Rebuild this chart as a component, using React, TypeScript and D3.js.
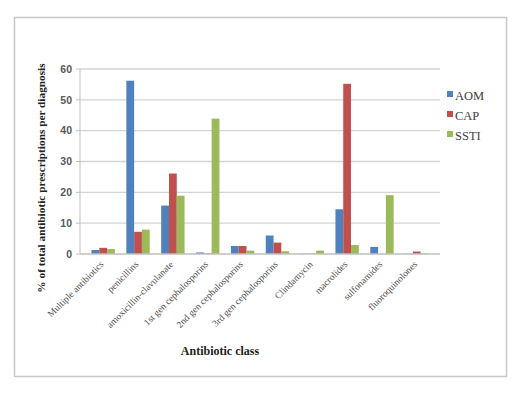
import React, { useEffect, useRef } from 'react';
import * as d3 from 'd3';

const categories = [
  'Multiple antibiotics',
  'penicillins',
  'amoxicillin-clavulanate',
  '1st gen cephalosporins',
  '2nd gen cephalosporins',
  '3rd gen cephalosporins',
  'Clindamycin',
  'macrolides',
  'sulfonamides',
  'fluoroquinolones',
];
const seriesNames = ['AOM', 'CAP', 'SSTI'];
const aom = [1.3, 56.2, 15.7, 0.5, 2.6, 6.0, 0.1, 14.5, 2.3, 0.1];
const cap = [2.0, 7.2, 26.1, 0.2, 2.6, 3.7, 0.1, 55.2, 0, 0.8];
const ssti = [1.6, 7.9, 18.9, 43.9, 1.1, 0.9, 1.1, 2.9, 19.1, 0.2];
const yTicks = [0, 10, 20, 30, 40, 50, 60];
const colors = ['#4f81bd', '#c0504d', '#9bbb59'];

const App = () => {
  const ref = useRef<SVGSVGElement>(null);

  useEffect(() => {
    const svg = d3.select(ref.current);
    svg.selectAll('*').remove();

    const left = 80, right = 440, top = 69, bottom = 254;
    const values = [aom, cap, ssti];

    // frame
    svg.append('rect')
      .attr('x', 14.5).attr('y', 17.5)
      .attr('width', 492).attr('height', 359)
      .attr('fill', '#fff').attr('stroke', '#c8c8c8').attr('stroke-width', 1.5);

    const x = d3.scaleBand().domain(categories).range([left, right]).padding(0.33);
    const xs = d3.scaleBand().domain(seriesNames).range([0, x.bandwidth()]);
    const y = d3.scaleLinear().domain([0, 60]).range([bottom, top]);

    // gridlines
    svg.append('g').selectAll('line')
      .data(yTicks.filter(t => t > 0))
      .enter().append('line')
      .attr('x1', left).attr('x2', right)
      .attr('y1', d => y(d)).attr('y2', d => y(d))
      .attr('stroke', '#d4d4d4').attr('stroke-width', 1.3);

    // y axis line + ticks
    svg.append('line')
      .attr('x1', left).attr('x2', left).attr('y1', top).attr('y2', bottom)
      .attr('stroke', '#bfbfbf').attr('stroke-width', 1);
    svg.append('g').selectAll('line')
      .data(yTicks)
      .enter().append('line')
      .attr('x1', left - 4).attr('x2', left)
      .attr('y1', d => y(d)).attr('y2', d => y(d))
      .attr('stroke', '#bfbfbf');
    svg.append('g').selectAll('text')
      .data(yTicks)
      .enter().append('text')
      .attr('x', left - 8).attr('y', d => y(d))
      .attr('dy', '0.35em')
      .attr('text-anchor', 'end')
      .attr('font-family', 'Liberation Sans, Arial, sans-serif')
      .attr('font-size', 10.5)
      .attr('font-weight', 'bold')
      .attr('fill', '#595959')
      .text(d => d);

    // bars
    seriesNames.forEach((s, i) => {
      svg.append('g').selectAll('rect')
        .data(values[i])
        .enter().append('rect')
        .attr('x', (d, j) => x(categories[j])! + xs(s)!)
        .attr('y', d => y(d))
        .attr('width', xs.bandwidth())
        .attr('height', d => bottom - y(d))
        .attr('fill', colors[i]);
    });

    // x axis line
    svg.append('line')
      .attr('x1', left).attr('x2', right).attr('y1', bottom).attr('y2', bottom)
      .attr('stroke', '#bfbfbf').attr('stroke-width', 1.3);

    // category labels
    svg.append('g').selectAll('text')
      .data(categories)
      .enter().append('text')
      .attr('transform', d => `translate(${x(d)! + x.bandwidth() / 2 + 1},${bottom + 11}) rotate(-45)`)
      .attr('text-anchor', 'end')
      .attr('font-family', 'Liberation Serif, Times New Roman, serif')
      .attr('font-size', 9.5)
      .attr('fill', '#505050')
      .text(d => d);

    // axis titles
    svg.append('text')
      .attr('transform', `translate(45,${178}) rotate(-90)`)
      .attr('text-anchor', 'middle')
      .attr('font-family', 'Liberation Serif, Times New Roman, serif')
      .attr('font-size', 11.3)
      .attr('font-weight', 'bold')
      .attr('fill', '#222')
      .text('% of total antibiotic  prescriptions per diagnosis');
    svg.append('text')
      .attr('x', 220).attr('y', 355)
      .attr('text-anchor', 'middle')
      .attr('font-family', 'Liberation Serif, Times New Roman, serif')
      .attr('font-size', 12)
      .attr('font-weight', 'bold')
      .attr('fill', '#222')
      .text('Antibiotic class');

    // legend
    const legend = svg.append('g').selectAll('g')
      .data(seriesNames)
      .enter().append('g')
      .attr('transform', (d, i) => `translate(447,${97 + i * 20})`);
    legend.append('rect')
      .attr('x', 0).attr('y', -6).attr('width', 6).attr('height', 6)
      .attr('fill', (d, i) => colors[i]);
    legend.append('text')
      .attr('x', 8).attr('y', 0)
      .attr('dy', '0.25em')
      .attr('font-family', 'Liberation Serif, Times New Roman, serif')
      .attr('font-size', 12.5)
      .attr('fill', '#404040')
      .text(d => d);
  }, []);

  return (
    <svg
      ref={ref}
      width={523}
      height={394}
      style={{ position: 'absolute', left: 0, top: 0, background: '#fff' }}
    />
  );
};

export default App;
